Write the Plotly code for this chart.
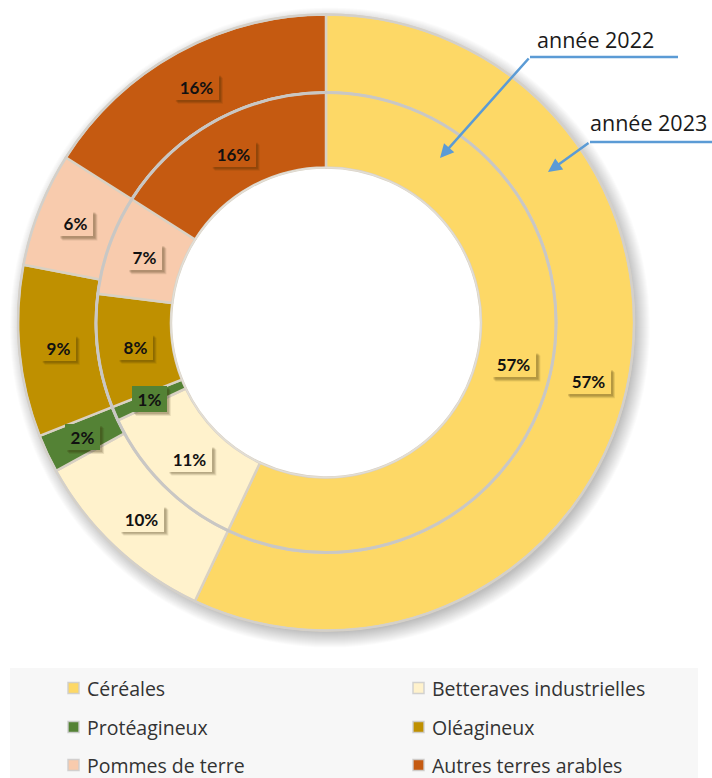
import numpy as np
import plotly.graph_objects as go

# Répartition des terres arables (en %)
categories = ["Céréales", "Betteraves industrielles", "Protéagineux",
              "Oléagineux", "Pommes de terre", "Autres terres arables"]
share_2023 = [57, 10, 2, 9, 6, 16]
share_2022 = [57, 11, 1, 8, 7, 16]
colors = ["#FDD866", "#FFF2CC", "#548235", "#BF9000", "#F8CBAD", "#C55A11"]

W, H = 712, 778
CX, CY = 326, 322.5           # centre of the rings (px)
R_OUT, R_MID, R_HOLE = 308, 230, 155
EDGE = "#D9D1C3"


def paper(x, y):
    return x / W, 1 - y / H


def domain(r):
    x0, y0 = paper(CX - r, CY + r)
    x1, y1 = paper(CX + r, CY - r)
    return dict(x=[x0, x1], y=[y0, y1])


def circle(cx, cy, r, **kw):
    x0, y0 = paper(cx - r, cy + r)
    x1, y1 = paper(cx + r, cy - r)
    return dict(type="circle", xref="paper", yref="paper",
                x0=x0, y0=y0, x1=x1, y1=y1, **kw)


def rect(xa, ya, xb, yb, **kw):
    x0, y0 = paper(xa, yb)
    x1, y1 = paper(xb, ya)
    return dict(type="rect", xref="paper", yref="paper",
                x0=x0, y0=y0, x1=x1, y1=y1, **kw)


shapes = []

# soft drop shadow behind the outer ring, cleared inside by a white disc
for dr in range(16, 0, -1):
    shapes.append(circle(CX + 4, CY + 5, R_OUT + dr - 4,
                         fillcolor="rgba(0,0,0,0.014)",
                         line=dict(width=0), layer="below"))
shapes.append(circle(CX, CY, R_OUT - 4, fillcolor="white",
                     line=dict(width=0), layer="below"))

fig = go.Figure()
fig.add_trace(go.Pie(
    labels=categories, values=share_2023, name="année 2023",
    marker=dict(colors=colors, line=dict(color=EDGE, width=2.5)),
    hole=R_MID / R_OUT, sort=False, direction="clockwise", rotation=0,
    textinfo="none", domain=domain(R_OUT), showlegend=False,
))
fig.add_trace(go.Pie(
    labels=categories, values=share_2022, name="année 2022",
    marker=dict(colors=colors, line=dict(color=EDGE, width=2.5)),
    hole=R_HOLE / R_MID, sort=False, direction="clockwise", rotation=0,
    textinfo="none", domain=domain(R_MID), showlegend=False,
))

# grey rims around the rings
shapes.append(circle(CX, CY, R_MID, fillcolor="rgba(0,0,0,0)",
                     line=dict(color="#C9C7C4", width=3), layer="above"))
shapes.append(circle(CX, CY, R_OUT, fillcolor="rgba(0,0,0,0)",
                     line=dict(color="#D3D0CB", width=2), layer="above"))
shapes.append(circle(CX, CY, R_HOLE, fillcolor="rgba(0,0,0,0)",
                     line=dict(color="#E2DED6", width=1.5), layer="above"))

annotations = []


def ring_labels(values, r_label):
    v = np.asarray(values, dtype=float)
    mid = (np.cumsum(v) - v / 2) / v.sum() * 2 * np.pi
    for val, ang, col in zip(values, mid, colors):
        px_ = CX + r_label * np.sin(ang)
        py_ = CY - r_label * np.cos(ang)
        text = f"{val}%"
        bw = 45 if len(text) > 2 else 35
        bh = 26
        # label shadow
        for off, alpha in ((4, 0.10), (3, 0.14), (2, 0.16)):
            shapes.append(rect(px_ - bw / 2 + off, py_ - bh / 2 + off,
                               px_ + bw / 2 + off, py_ + bh / 2 + off,
                               fillcolor=f"rgba(50,35,0,{alpha})",
                               line=dict(width=0), layer="above"))
        x, y = paper(px_, py_)
        annotations.append(dict(
            x=x, y=y, xref="paper", yref="paper", showarrow=False,
            xanchor="center", yanchor="middle",
            text=f"<b>{text}</b>", width=bw, height=bh, borderpad=0,
            borderwidth=0, bgcolor=col,
            font=dict(family="Lato", size=17, color="#111111")))


ring_labels(share_2023, (R_MID + R_OUT) / 2)
ring_labels(share_2022, (R_HOLE + R_MID) / 2)

# callouts naming each ring
BLUE = "#5B9BD5"
callouts = [
    ("année 2022", (595, 40), (530, 57), (678, 57), (440, 158)),
    ("année 2023", (648, 122), (590, 142), (712, 142), (548, 172)),
]
for text, (tx, ty), (ex, ey), (lx, ly), (ax_, ay_) in callouts:
    x0, y0 = paper(ex, ey)
    x1, y1 = paper(lx, ly)
    shapes.append(dict(type="line", xref="paper", yref="paper", x0=x0, y0=y0,
                       x1=x1, y1=y1, line=dict(color=BLUE, width=2.5)))
    px_, py_ = paper(ax_, ay_)
    annotations.append(dict(x=px_, y=py_, xref="paper", yref="paper", text="",
                            showarrow=True, ax=ex - ax_, ay=ey - ay_,
                            arrowhead=2, arrowsize=1.1, arrowwidth=2.5,
                            arrowcolor=BLUE, standoff=0))
    x, y = paper(tx, ty)
    annotations.append(dict(x=x, y=y, xref="paper", yref="paper", text=text,
                            showarrow=False, xanchor="center",
                            yanchor="middle",
                            font=dict(family="Open Sans", size=21.5,
                                      color="#1A1A1A")))

# legend panel
shapes.append(rect(10, 668, 698, 778, fillcolor="#F7F7F7",
                   line=dict(width=0), layer="below"))
col_x = [68, 413]
row_y = [688, 727, 765]
for i, (cat, col) in enumerate(zip(categories, colors)):
    sx = col_x[i % 2]
    sy = row_y[i // 2]
    shapes.append(rect(sx, sy - 5.5, sx + 11, sy + 5.5, fillcolor=col,
                       line=dict(color="rgba(205,205,205,0.9)", width=1.5)))
    tx, ty = paper(sx + 17, sy)
    annotations.append(dict(x=tx, y=ty, xref="paper", yref="paper", text=cat,
                            showarrow=False, xanchor="left", yanchor="middle",
                            font=dict(family="Open Sans", size=19.5,
                                      color="#333333")))

fig.update_layout(
    width=W, height=H, margin=dict(l=0, r=0, t=0, b=0),
    paper_bgcolor="white", plot_bgcolor="white",
    shapes=shapes, annotations=annotations, showlegend=False,
)

fig.write_html("out.html")
